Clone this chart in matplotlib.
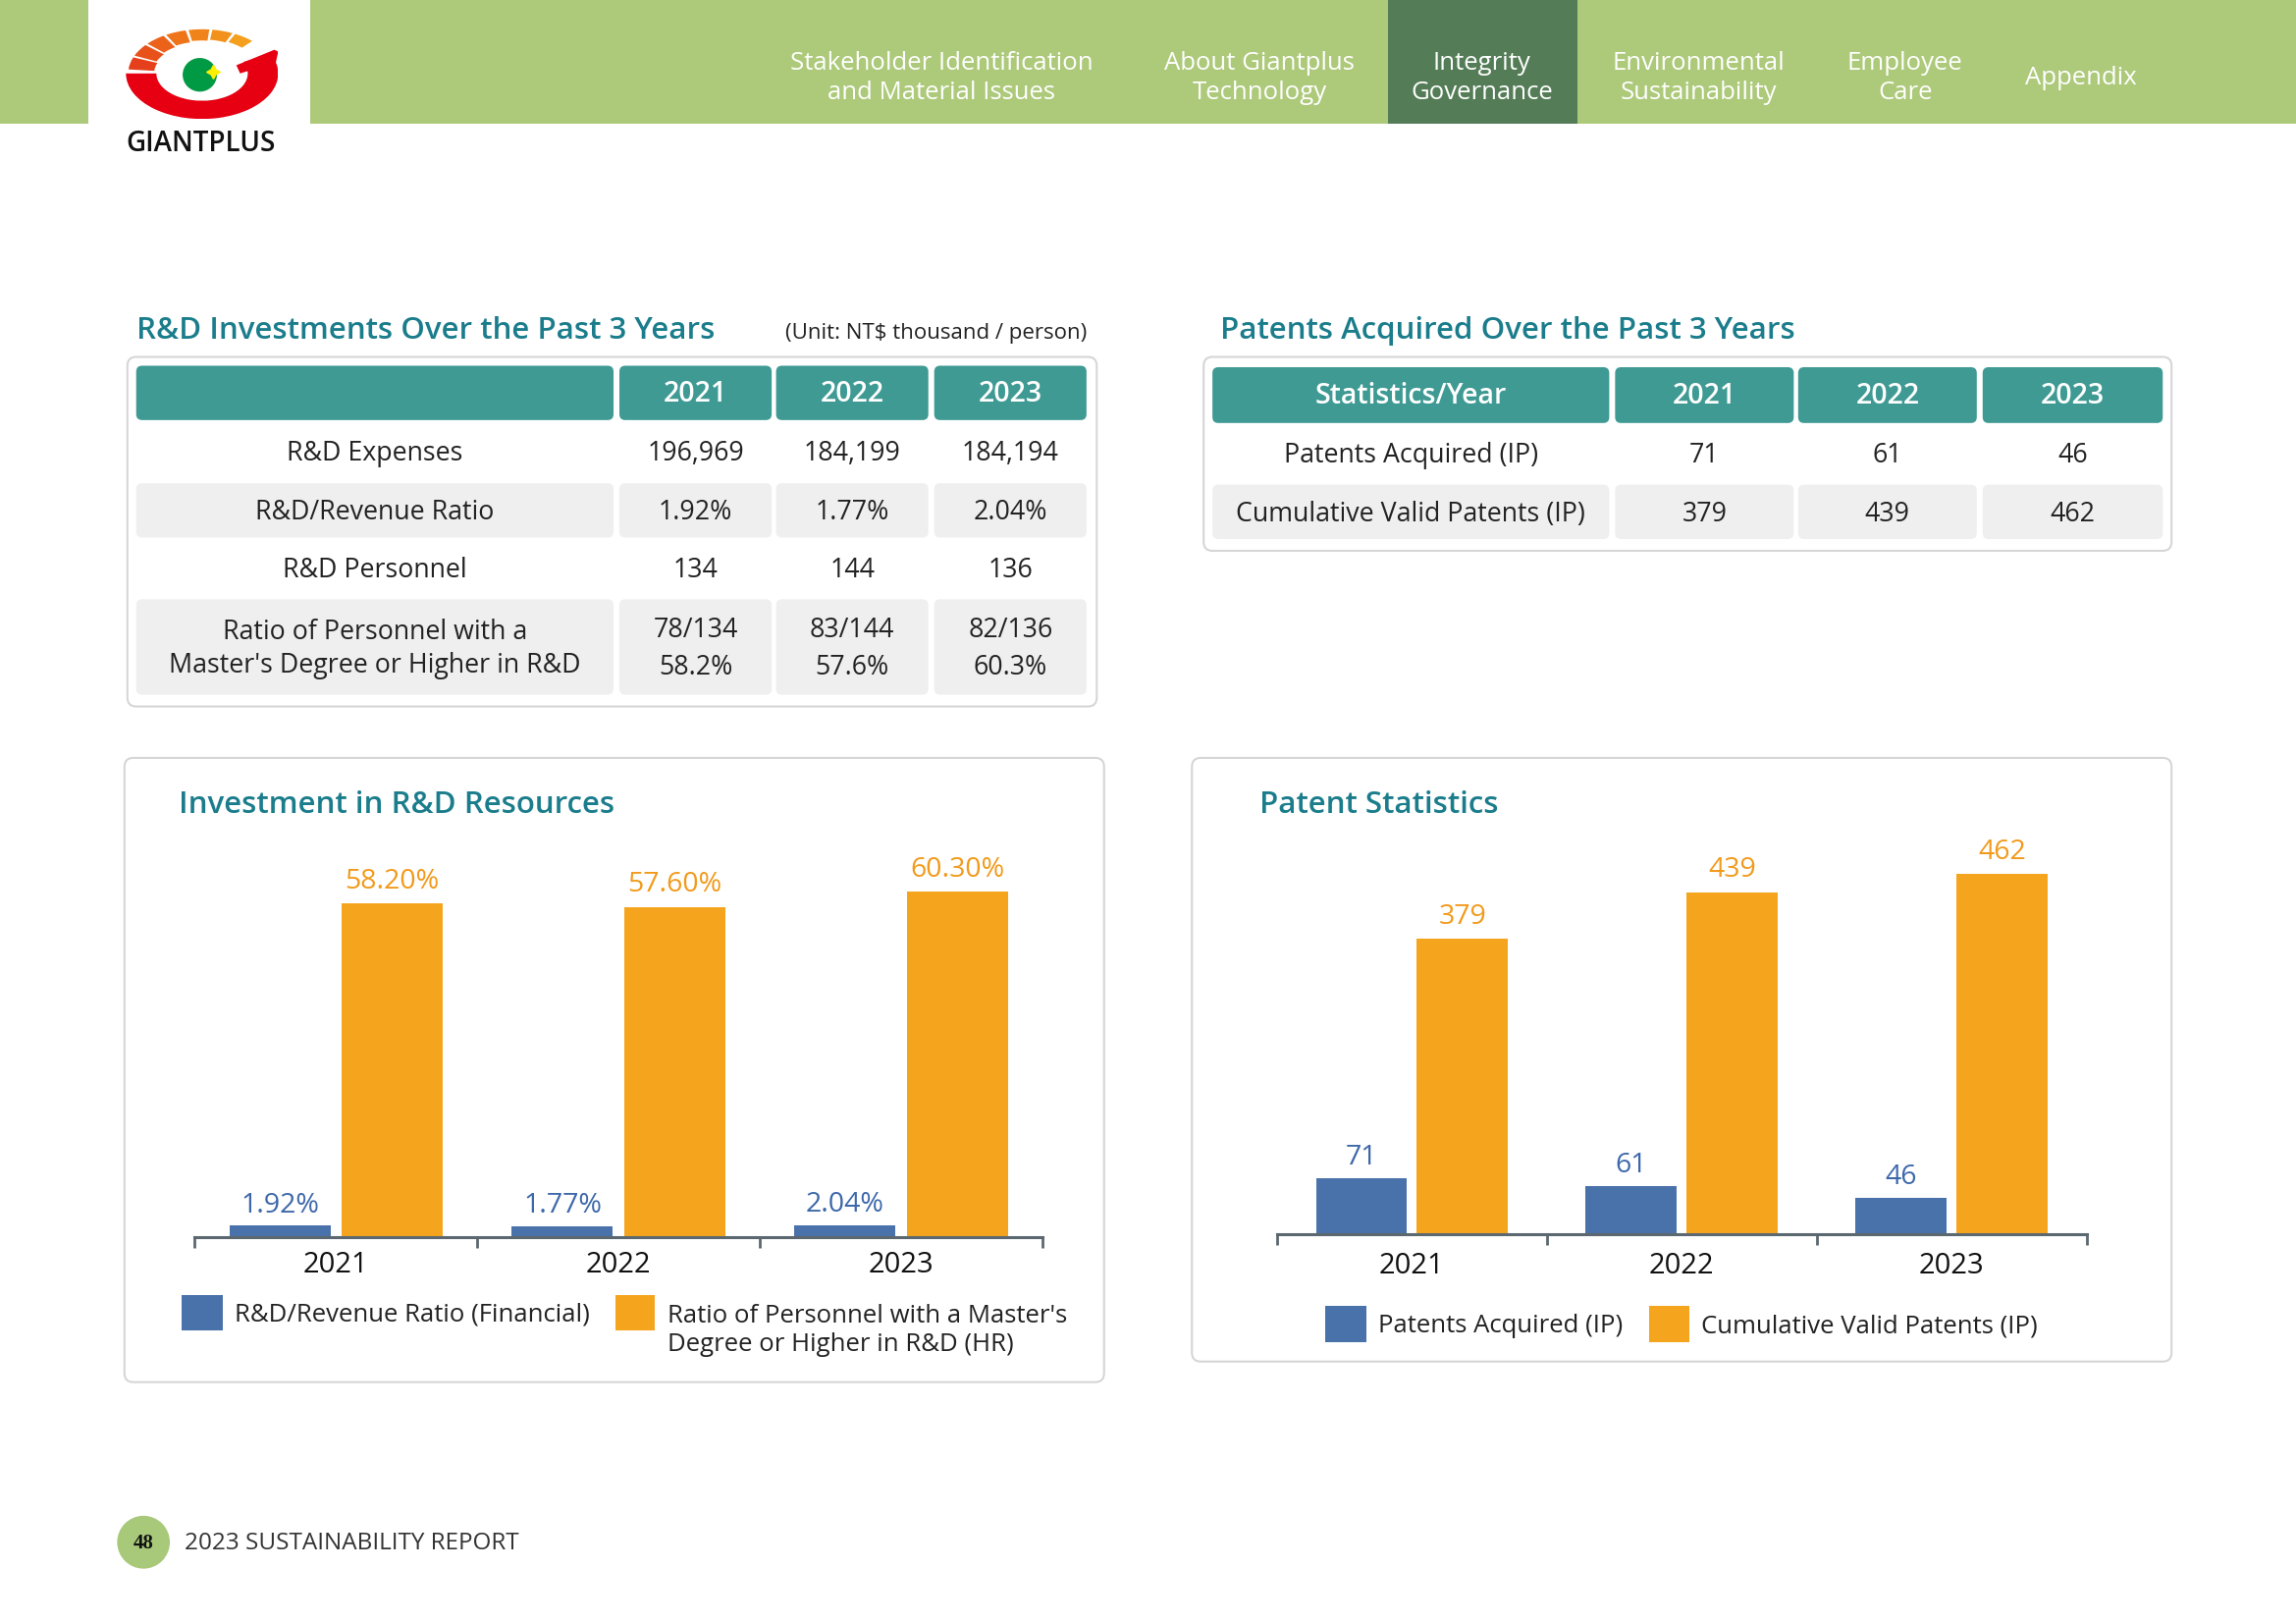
import numpy as np
import matplotlib
matplotlib.use('Agg')
import matplotlib.pyplot as plt
from matplotlib.patches import FancyBboxPatch, Rectangle, Wedge, Ellipse, Polygon, Circle

# ================================
# DATA
# ================================

years = ["2021", "2022", "2023"]
rd_expenses = [196969, 184199, 184194]          # NT$ thousand
rd_revenue_ratio = [1.92, 1.77, 2.04]           # %
rd_personnel = [134, 144, 136]
masters_count = [78, 83, 82]
masters_ratio = [58.2, 57.6, 60.3]              # %
patents_acquired = [71, 61, 46]
cumulative_patents = [379, 439, 462]

nav_items = ["Stakeholder Identification\nand Material Issues",
             "About Giantplus\nTechnology",
             "Integrity\nGovernance",
             "Environmental\nSustainability",
             "Employee\nCare",
             "Appendix"]

# ================================
# STYLE
# ================================

plt.rcParams['font.family'] = ['Open Sans', 'DejaVu Sans']

GREEN_BAND = "#adc97a"
GREEN_DARK = "#547d57"
TEAL_TXT = "#1b7d8c"
TEAL_HEAD = "#3f9a94"
CELL_GRAY = "#efefef"
BORDER = "#d6d6d6"
BLUE = "#4a72aa"
ORANGE = "#f5a51d"
BLUE_TXT = "#3d68aa"
ORANGE_TXT = "#f19a1b"
AXIS = "#5c6870"
TXT = "#222222"

# page is laid out in reference pixels (1568 wide), saved at 2339 x 1653
W, H = 1568, 1105

fig = plt.figure(figsize=(23.39, 16.53), dpi=100)
bg = fig.add_axes([0, 0, 1, 1])
bg.set_xlim(0, W)
bg.set_ylim(H, 0)
bg.axis('off')


def frac(x0, y0, x1, y1):
    return [x0 / W, 1 - y1 / H, (x1 - x0) / W, (y1 - y0) / H]


def box(x0, y0, x1, y1, fc, ec='none', lw=0, r=4, z=1):
    bg.add_patch(FancyBboxPatch((x0, y0), x1 - x0, y1 - y0,
                                boxstyle=f"round,pad=0,rounding_size={r}",
                                fc=fc, ec=ec, lw=lw, zorder=z))


# ================================
# HEADER
# ================================

bg.add_patch(Rectangle((0, 0), W, 84, fc=GREEN_BAND, ec='none', zorder=1))
bg.add_patch(Rectangle((60, 0), 152, 84, fc='white', ec='none', zorder=2))
bg.add_patch(Rectangle((948, 0), 129, 84, fc=GREEN_DARK, ec='none', zorder=2))

nav_x = [643, 860, 1012, 1160, 1301, 1421]
for nx, label in zip(nav_x, nav_items):
    bg.text(nx, 53, label, ha='center', va='center', color='white',
            fontsize=18.5, linespacing=1.24, zorder=3)

# logo
lg = fig.add_axes(frac(86, 19, 190, 81))
lg.set_xlim(-1, 1)
lg.set_ylim(-1, 1)
lg.axis('off')
lg.add_patch(Wedge((0, 0), 1.0, 180, 385, width=0.40, fc='#e60012', ec='none'))
lg.add_patch(Polygon([(0.97, 0.25), (1.0, 0.48), (0.95, 0.52), (0.45, 0.18), (0.5, 0.0)],
                     closed=True, fc='#e60012', ec='none'))
seg_cols = ['#e5401b', '#e8521a', '#ec621a', '#ef7419', '#f0841a', '#f2921c', '#f4a01e']
seg_edges = np.linspace(176, 46, len(seg_cols) + 1)
seg_w = np.linspace(0.34, 0.2, len(seg_cols))
for i, c in enumerate(seg_cols):
    lg.add_patch(Wedge((0, 0), 0.97, seg_edges[i + 1] + 1.2, seg_edges[i] - 1.2,
                       width=seg_w[i], fc=c, ec='none'))
lg.add_patch(Ellipse((-0.03, -0.03), 0.45, 0.74, fc='#009a44', ec='none'))
lg.plot([0.14], [0.03], marker=(4, 1, 0), color='#fff000', markersize=10)
bg.text(137, 98, "GIANTPLUS", ha='center', va='center', fontsize=20,
        fontweight='semibold', color='#111111', zorder=3)

# ================================
# TABLES
# ================================

bg.text(93, 225, "R&D Investments Over the Past 3 Years", ha='left', va='center',
        fontsize=22.5, fontweight='semibold', color=TEAL_TXT)
bg.text(536, 227, "(Unit: NT$ thousand / person)", ha='left', va='center',
        fontsize=16, color=TXT)
bg.text(833, 225, "Patents Acquired Over the Past 3 Years", ha='left', va='center',
        fontsize=22.5, fontweight='semibold', color=TEAL_TXT)

box(87, 243, 749, 481, 'white', ec=BORDER, lw=1.5, r=6)
box(822, 243, 1483, 375, 'white', ec=BORDER, lw=1.5, r=6)

left_cols = [(93, 419), (423, 527), (530, 634), (638, 742)]
left_head = ["", *years]
left_rows = [
    ((288, 327), 'white', "R&D Expenses", [f"{v:,}" for v in rd_expenses]),
    ((329, 366), CELL_GRAY, "R&D/Revenue Ratio", [f"{v:.2f}%" for v in rd_revenue_ratio]),
    ((368, 406), 'white', "R&D Personnel", [str(v) for v in rd_personnel]),
    ((408, 473), CELL_GRAY, "Ratio of Personnel with a\nMaster's Degree or Higher in R&D",
     [f"{m}/{p}\n{r:.1f}%" for m, p, r in zip(masters_count, rd_personnel, masters_ratio)]),
]

right_cols = [(828, 1099), (1103, 1225), (1228, 1350), (1354, 1477)]
right_head = ["Statistics/Year", *years]
right_rows = [
    ((290, 328), 'white', "Patents Acquired (IP)", [str(v) for v in patents_acquired]),
    ((330, 367), CELL_GRAY, "Cumulative Valid Patents (IP)", [str(v) for v in cumulative_patents]),
]


def draw_table(cols, head_y, head, rows):
    for (x0, x1), h in zip(cols, head):
        box(x0, head_y[0], x1, head_y[1], TEAL_HEAD, r=4, z=2)
        bg.text((x0 + x1) / 2, (head_y[0] + head_y[1]) / 2 + 1, h, ha='center',
                va='center', color='white', fontsize=20.5, fontweight='semibold', zorder=3)
    for (y0, y1), fc, label, vals in rows:
        for j, ((x0, x1), s) in enumerate(zip(cols, [label, *vals])):
            if fc != 'white':
                box(x0, y0, x1, y1, fc, r=4, z=2)
            bg.text((x0 + x1) / 2, (y0 + y1) / 2 + 1.5, s, ha='center', va='center',
                    color=TXT, fontsize=19.3, linespacing=1.3 if j == 0 else 1.48,
                    zorder=3)


draw_table(left_cols, (249, 286), left_head, left_rows)
draw_table(right_cols, (250, 288), right_head, right_rows)

# ================================
# CHART PANELS
# ================================

box(85, 516, 754, 941, 'white', ec=BORDER, lw=1.5, r=6)
box(814, 516, 1483, 927, 'white', ec=BORDER, lw=1.5, r=6)
bg.text(122, 548, "Investment in R&D Resources", ha='left', va='center',
        fontsize=22.5, fontweight='semibold', color=TEAL_TXT)
bg.text(860, 548, "Patent Statistics", ha='left', va='center',
        fontsize=22.5, fontweight='semibold', color=TEAL_TXT)


def bar_chart(rect, vals_a, vals_b, ymax, fmt, off, width, pad):
    ax = fig.add_axes(frac(*rect))
    ax.patch.set_alpha(0)
    x = np.arange(len(years))
    ax.bar(x - off, vals_a, width, color=BLUE, zorder=2)
    ax.bar(x + off, vals_b, width, color=ORANGE, zorder=2)
    for xi, a, b in zip(x, vals_a, vals_b):
        ax.annotate(fmt(a), (xi - off, a), xytext=(0, 15), textcoords='offset points',
                    ha='center', va='center', color=BLUE_TXT, fontsize=20.5)
        ax.annotate(fmt(b), (xi + off, b), xytext=(0, 16), textcoords='offset points',
                    ha='center', va='center', color=ORANGE_TXT, fontsize=20.5)
    ax.set_xlim(-0.5, len(years) - 0.5)
    ax.set_ylim(0, ymax)
    for s in ['top', 'left', 'right']:
        ax.spines[s].set_visible(False)
    ax.spines['bottom'].set_color(AXIS)
    ax.spines['bottom'].set_linewidth(2.2)
    ax.spines['bottom'].set_zorder(3)
    ax.set_yticks([])
    ax.set_xticks(x)
    ax.set_xticklabels(years, fontsize=21, color='#111111')
    ax.tick_params(axis='x', which='major', length=0, pad=pad)
    ax.set_xticks(np.arange(len(years) + 1) - 0.5, minor=True)
    ax.tick_params(axis='x', which='minor', length=8, width=2, color=AXIS, direction='out')
    return ax


bar_chart((133, 569, 712, 842), rd_revenue_ratio, masters_ratio, 70,
          lambda v: f"{v:.2f}%", 0.199, 0.3575, 10.5)
bar_chart((872, 575, 1425, 840), patents_acquired, cumulative_patents, 500,
          lambda v: f"{v}", 0.187, 0.337, 13)

# legends
bg.add_patch(Rectangle((124, 882), 28, 24, fc=BLUE, ec='none', zorder=3))
bg.text(160, 895, "R&D/Revenue Ratio (Financial)", ha='left', va='center',
        fontsize=18.5, color=TXT, zorder=3)
bg.add_patch(Rectangle((420, 882), 27, 24, fc=ORANGE, ec='none', zorder=3))
bg.text(456, 906, "Ratio of Personnel with a Master's\nDegree or Higher in R&D (HR)",
        ha='left', va='center', fontsize=18.5, color=TXT, linespacing=1.2, zorder=3)

bg.add_patch(Rectangle((905, 889), 28, 25, fc=BLUE, ec='none', zorder=3))
bg.text(941, 903, "Patents Acquired (IP)", ha='left', va='center',
        fontsize=18.5, color=TXT, zorder=3)
bg.add_patch(Rectangle((1126, 889), 28, 25, fc=ORANGE, ec='none', zorder=3))
bg.text(1162, 903, "Cumulative Valid Patents (IP)", ha='left', va='center',
        fontsize=18.5, color=TXT, zorder=3)

# ================================
# FOOTER
# ================================

bg.add_patch(Circle((98, 1050), 18, fc='#a9c97a', ec='none', zorder=2))
bg.text(98, 1051, "48", ha='center', va='center', fontsize=15, fontweight='bold',
        family='Liberation Serif', color='#111111', zorder=3)
bg.text(126, 1051, "2023 SUSTAINABILITY REPORT", ha='left', va='center',
        fontsize=17.5, color='#333333', zorder=3)

fig.savefig("out.png", dpi=100)
